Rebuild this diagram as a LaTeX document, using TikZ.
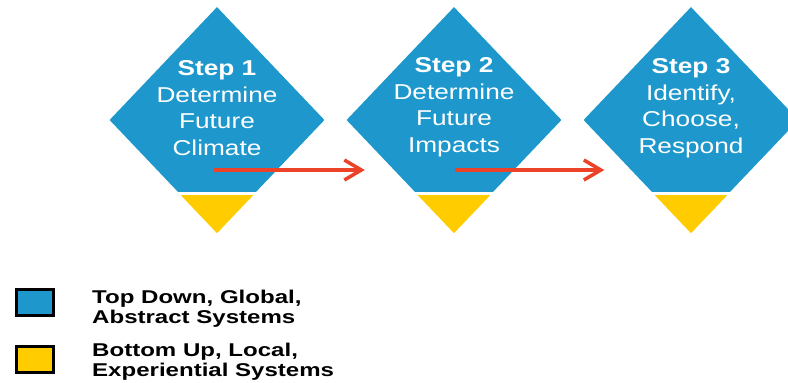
\documentclass[tikz,border=0pt]{standalone}
\usepackage{fontspec}
\usetikzlibrary{shapes.geometric,arrows.meta,calc}
\newfontfamily\stepfont[FakeStretch=1.22]{Liberation Sans}
\newfontfamily\keyfont[FakeStretch=1.3]{Liberation Sans}
\definecolor{stepblue}{RGB}{30,152,204}
\definecolor{tipyellow}{RGB}{255,204,0}
\definecolor{flowred}{RGB}{236,66,40}
\begin{document}
\begin{tikzpicture}[x=1pt,y=-1pt,step diamond/.style={diamond, fill=stepblue, minimum width=215pt, minimum height=226pt, inner sep=0pt},step text/.style={font=\stepfont\fontsize{21.5}{26.5}\selectfont, text=white, align=center, inner sep=0pt},flow arrow/.style={draw=flowred, line width=3.5pt, -{Straight Barb[length=17pt,width=20pt]}},key box/.style={draw=black, line width=3pt, minimum width=37pt, minimum height=26pt, inner sep=0pt},key text/.style={font=\keyfont\bfseries\fontsize{18.5}{20}\selectfont, align=left, anchor=west, inner sep=0pt}]%
\path[use as bounding box] (0,0) rectangle (788,383);%
  % Step 1%
\node[step diamond] (s1) at (217,120) {};%
\fill[white] ($(s1.south)+(-46,-41)$) rectangle ($(s1.south)+(46,2)$);%
\fill[tipyellow] ($(s1.south)+(-36.2,-38)$) -- ($(s1.south)+(36.2,-38)$) -- (s1.south) -- cycle;%
\node[step text] (s1 label) at (217,108) {\textbf{Step 1}\\Determine\\Future\\Climate};%
  % Step 2%
\node[step diamond] (s2) at (454,120) {};%
\fill[white] ($(s2.south)+(-46,-41)$) rectangle ($(s2.south)+(46,2)$);%
\fill[tipyellow] ($(s2.south)+(-36.2,-38)$) -- ($(s2.south)+(36.2,-38)$) -- (s2.south) -- cycle;%
\node[step text] (s2 label) at (454,107) {\textbf{Step 2}\\Determine\\Future\\Impacts};%
  % Step 3%
\node[step diamond] (s3) at (691,120) {};%
\fill[white] ($(s3.south)+(-46,-41)$) rectangle ($(s3.south)+(46,2)$);%
\fill[tipyellow] ($(s3.south)+(-36.2,-38)$) -- ($(s3.south)+(36.2,-38)$) -- (s3.south) -- cycle;%
\node[step text] (s3 label) at (691,108) {\textbf{Step 3}\\Identify,\\Choose,\\Respond};%
  % Arrows%
\draw[flow arrow] ($(s1)+(-3,50)$) -- ($(s2.west)+(18.5,50)$);%
\draw[flow arrow] ($(s2)+(1,50)$) -- ($(s3.west)+(21,50)$);%
  % Key%
\node[key box, fill=stepblue] (top down) at (35,302.5) {};%
\node[key text] (top down text) at (92,308.5) {Top Down, Global,\\Abstract Systems};%
\node[key box, fill=tipyellow] (bottom up) at (35,359) {};%
\node[key text] (bottom up text) at (92,362) {Bottom Up, Local,\\Experiential Systems};%
\end{tikzpicture}
\end{document}
